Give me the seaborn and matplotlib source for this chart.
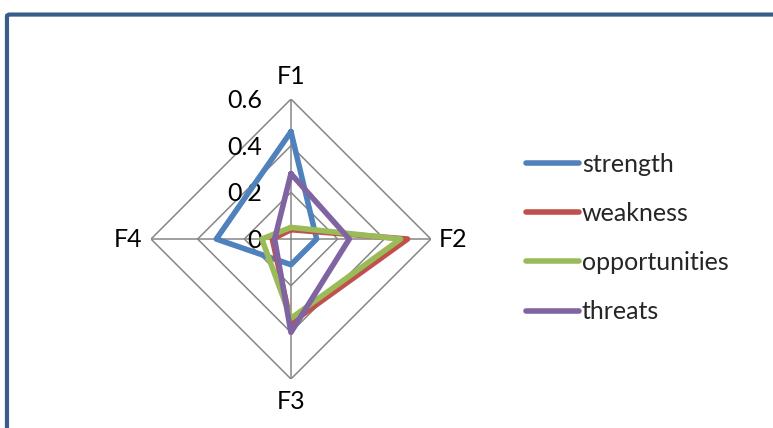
import numpy as np
import pandas as pd
import seaborn as sns
import matplotlib.pyplot as plt
from matplotlib.patches import FancyBboxPatch
from matplotlib.lines import Line2D

categories = ["F1", "F2", "F3", "F4"]
series = ["strength", "weakness", "opportunities", "threats"]
strength = [0.46, 0.11, 0.11, 0.32]
weakness = [0.04, 0.50, 0.36, 0.08]
opportunities = [0.05, 0.47, 0.34, 0.125]
threats = [0.28, 0.25, 0.40, 0.07]
levels = [0.2, 0.4, 0.6]
level_labels = ["0", "0.2", "0.4", "0.6"]
colors = ["#4F81BD", "#C0504D", "#9BBB59", "#8064A2"]

sns.set_theme(style="white")
plt.rcParams["font.family"] = ["Lato", "DejaVu Sans"]

angles = np.linspace(0, 2 * np.pi, len(categories), endpoint=False)
closed = np.append(angles, angles[0])

rows = []
for name, vals in zip(series, [strength, weakness, opportunities, threats]):
    for i, th in enumerate(closed):
        rows.append({"series": name, "theta": th, "r": vals[i % len(vals)], "order": i})
df = pd.DataFrame(rows)

fig = plt.figure(figsize=(7.73, 4.28), dpi=100)
ax = fig.add_axes([0.1953, 0.1145, 0.3622, 0.654], projection="polar")
ax.set_theta_zero_location("N")
ax.set_theta_direction(-1)
ax.set_ylim(0, 0.6)

# diamond grid and spokes
for lv in levels:
    ax.plot(closed, [lv] * len(closed), color="#868686", lw=1.1, zorder=1)
for th in angles:
    ax.plot([th, th], [0, 0.6], color="#868686", lw=1.1, zorder=1)

sns.lineplot(data=df, x="theta", y="r", hue="series", hue_order=series,
             palette=colors, sort=False, estimator=None, units="series",
             lw=4, legend=False, ax=ax, zorder=3)

ax.grid(False)
ax.spines["polar"].set_visible(False)
ax.set_xticks([])
ax.set_yticks([])
ax.set_xlabel("")
ax.set_ylabel("")

fs = 18
for lab, lv in zip(level_labels, [0] + levels):
    ax.annotate(lab, (0, lv), xytext=(-21, -1), textcoords="offset points",
                ha="right", va="center", fontsize=fs, color="black", zorder=2)

offsets = [(0, 16), (6, 0), (0, -16.5), (-6, 0)]
aligns = [("center", "center"), ("left", "center"), ("center", "center"), ("right", "center")]
for cat, th, off, (ha, va) in zip(categories, angles, offsets, aligns):
    ax.annotate(cat, (th, 0.6), xytext=off, textcoords="offset points",
                ha=ha, va=va, fontsize=fs, color="black")

handles = [Line2D([0], [0], color=c, lw=4) for c in colors]
fig.legend(handles, series, loc="center left", bbox_to_anchor=(0.652, 0.444),
           frameon=False, fontsize=fs, handlelength=2.1, handletextpad=0.12,
           labelspacing=1.05)

frame = FancyBboxPatch((0.009, -0.2), 1.2, 1.166, boxstyle="round,pad=0,rounding_size=0.004",
                       transform=fig.transFigure, fill=False, edgecolor="#385D8A",
                       lw=3, clip_on=False)
fig.patches.append(frame)

fig.savefig("out.png", dpi=100)
